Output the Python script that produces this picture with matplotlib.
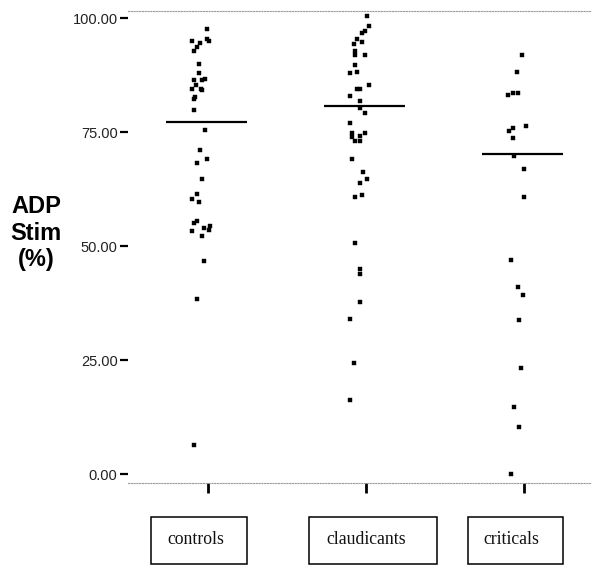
import matplotlib
matplotlib.use("Agg")
import matplotlib.pyplot as plt
from matplotlib.patches import Rectangle
import numpy as np

# ---- data ----
groups = ["controls", "claudicants", "criticals"]

controls = [97.6, 95.0, 94.6, 95.4, 95.0, 93.6, 92.8, 90.0, 87.9, 86.4, 86.4, 86.8,
            85.3, 84.6, 84.6, 84.2, 82.7, 82.4, 80.0, 75.6, 71.2, 69.1, 68.3, 64.8,
            61.5, 60.4, 59.7, 55.5, 55.1, 54.0, 54.4, 53.5, 53.4, 52.2, 46.7, 38.4, 6.4]
controls_jitter = [-0.008, -0.099, -0.049, -0.004, 0.006, -0.070, -0.091, -0.057, -0.057,
                   -0.091, -0.036, -0.017, -0.078, -0.099, -0.046, -0.036, -0.080, -0.091,
                   -0.091, -0.017, -0.049, -0.006, -0.070, -0.038, -0.070, -0.099, -0.057,
                   -0.070, -0.091, -0.027, 0.015, 0.004, -0.101, -0.038, -0.027, -0.070, -0.091]

claudicants = [100.4, 98.4, 96.8, 97.2, 95.5, 94.7, 94.4, 92.9, 91.9, 91.9, 89.7, 88.2,
               87.9, 85.4, 84.6, 84.6, 82.9, 81.8, 80.3, 79.2, 77.0, 74.9, 74.9, 73.9,
               74.2, 73.2, 73.2, 69.1, 66.3, 64.8, 63.8, 60.9, 61.3, 50.8, 45.0, 43.9,
               37.7, 34.1, 24.5, 16.2]
claudicants_jitter = [0.005, 0.016, -0.027, -0.005, -0.058, -0.027, -0.079, -0.068, -0.068,
                      -0.005, -0.068, -0.058, -0.100, 0.016, -0.058, -0.037, -0.100, -0.037,
                      -0.037, -0.005, -0.100, -0.090, -0.005, -0.090, -0.037, -0.068, -0.037,
                      -0.090, -0.016, 0.005, -0.037, -0.068, -0.027, -0.068, -0.037, -0.037,
                      -0.037, -0.100, -0.079, -0.100]

criticals = [91.9, 88.2, 83.2, 83.6, 83.6, 76.3, 76.0, 75.3, 73.8, 69.9, 67.0, 60.9,
             47.1, 41.0, 39.3, 33.8, 23.4, 14.8, 10.4, 0.0]
criticals_jitter = [-0.011, -0.042, -0.103, -0.072, -0.040, 0.013, -0.072, -0.093, -0.072,
                    -0.061, 0.002, 0.002, -0.082, -0.040, -0.008, -0.030, -0.019, -0.061,
                    -0.030, -0.082]

medians = [77.3, 80.8, 70.3]

yticks = [0, 25, 50, 75, 100]

# ---- figure ----
W, H = 596, 567
fig = plt.figure(figsize=(W / 100, H / 100), dpi=100)
ax = fig.add_axes([128 / W, (H - 483.3) / H, (590 - 128) / W, (483.3 - 10.7) / H])

series = [controls, claudicants, criticals]
jitters = [controls_jitter, claudicants_jitter, criticals_jitter]
positions = [1, 2, 3]

for pos, vals, jit in zip(positions, series, jitters):
    xs = pos + np.asarray(jit)
    ax.plot(xs, vals, linestyle="none", marker="s", markersize=2.6,
            markerfacecolor="black", markeredgecolor="black", markeredgewidth=0.3)

for pos, med in zip(positions, medians):
    ax.plot([pos - 0.263, pos + 0.245], [med, med], color="black", lw=1.6,
            solid_capstyle="butt")

ax.set_xlim(1 - 80 / 158, 3 + 66 / 158)
ax.set_ylim(-1.97, 101.67)

ax.set_yticks(yticks)
ax.set_yticklabels([f"{v:.2f}" for v in yticks], fontfamily="Liberation Sans",
                   fontsize=10.5, color="#222222")
ax.tick_params(axis="y", direction="out", length=6, width=1.6, pad=1.5, color="black")

ax.set_xticks(positions)
ax.set_xticklabels([])
ax.tick_params(axis="x", direction="out", length=7.2, width=2.0, color="black")

for side in ("left", "right"):
    ax.spines[side].set_visible(False)
for side in ("top", "bottom"):
    ax.spines[side].set_linestyle((0, (1, 1.5)))
    ax.spines[side].set_color("#999999")
    ax.spines[side].set_linewidth(0.8)

# y label
fig.text(36 / W, (H - 233) / H, "ADP\nStim\n(%)", ha="center", va="center",
         fontfamily="Liberation Sans", fontweight="bold", fontsize=17,
         linespacing=1.2, multialignment="center")

# category boxes
box_x = [150.7, 309.3, 467.7]
box_w = [96.0, 128.0, 95.0]
text_x = [196, 366, 511]
for name, bx, bw, tx in zip(groups, box_x, box_w, text_x):
    fig.patches.append(Rectangle((bx / W, (H - 564.3) / H), bw / W, 47 / H,
                                 transform=fig.transFigure, fill=False,
                                 edgecolor="black", linewidth=1.1))
    fig.text(tx / W, (H - 540) / H, name, ha="center", va="center",
             fontfamily="Liberation Serif", fontsize=12.8, color="#111111")

fig.savefig("out.png", dpi=100)
